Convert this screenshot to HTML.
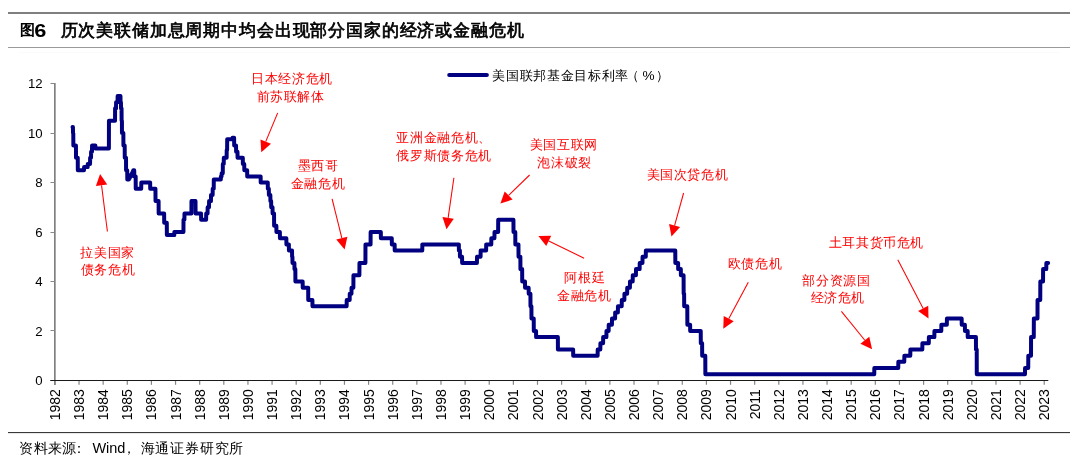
<!DOCTYPE html>
<html><head><meta charset="utf-8"><style>
html,body{margin:0;padding:0;background:#fff;width:1080px;height:463px;overflow:hidden}
svg{position:absolute;left:0;top:0;will-change:transform}
</style></head><body>
<svg width="1080" height="463" viewBox="0 0 1080 463">
<rect x="8" y="12" width="1062" height="2" fill="#7f7f7f"/>
<rect x="8" y="47" width="1062" height="1" fill="#9a9a9a"/>
<rect x="18.5" y="52" width="1040.5" height="1" fill="#fafafa"/>
<text x="19.6" y="34.6" style='font-family:"Liberation Sans",sans-serif;font-size:15.4px;font-weight:bold' fill="#000">图</text>
<text transform="translate(34.3,37.1) scale(1.17,1)" x="0" y="0" style='font-family:"Liberation Sans",sans-serif;font-size:18.6px;font-weight:bold' fill="#000">6</text>
<text x="60.60 78.44 96.28 114.12 131.96 149.80 167.64 185.48 203.32 221.16 239.00 256.84 274.68 292.52 310.36 328.20 346.04 363.88 381.72 399.56 417.40 435.24 453.08 470.92 488.76 506.60" y="36" style='font-family:"Liberation Serif",serif;font-size:16.6px;font-weight:400' fill="#000" stroke="#000" stroke-width="0.7">历次美联储加息周期中均会出现部分国家的经济或金融危机</text>
<rect x="54" y="83" width="1" height="302" fill="#808080"/><rect x="55" y="83" width="1" height="302" fill="#a8a8a8"/>
<g fill="#888"><rect x="50.5" y="380" width="4" height="1"/><rect x="50.5" y="330" width="4" height="1"/><rect x="50.5" y="281" width="4" height="1"/><rect x="50.5" y="232" width="4" height="1"/><rect x="50.5" y="182" width="4" height="1"/><rect x="50.5" y="133" width="4" height="1"/><rect x="50.5" y="83" width="4" height="1"/></g>
<rect x="50.3" y="380" width="998" height="1" fill="#1a1a1a"/>
<g stroke="#858585" stroke-width="1.2"><line x1="54.90" y1="381" x2="54.90" y2="384.8"/><line x1="79.03" y1="381" x2="79.03" y2="384.8"/><line x1="103.16" y1="381" x2="103.16" y2="384.8"/><line x1="127.29" y1="381" x2="127.29" y2="384.8"/><line x1="151.42" y1="381" x2="151.42" y2="384.8"/><line x1="175.55" y1="381" x2="175.55" y2="384.8"/><line x1="199.68" y1="381" x2="199.68" y2="384.8"/><line x1="223.81" y1="381" x2="223.81" y2="384.8"/><line x1="247.94" y1="381" x2="247.94" y2="384.8"/><line x1="272.07" y1="381" x2="272.07" y2="384.8"/><line x1="296.20" y1="381" x2="296.20" y2="384.8"/><line x1="320.33" y1="381" x2="320.33" y2="384.8"/><line x1="344.46" y1="381" x2="344.46" y2="384.8"/><line x1="368.59" y1="381" x2="368.59" y2="384.8"/><line x1="392.72" y1="381" x2="392.72" y2="384.8"/><line x1="416.85" y1="381" x2="416.85" y2="384.8"/><line x1="440.98" y1="381" x2="440.98" y2="384.8"/><line x1="465.11" y1="381" x2="465.11" y2="384.8"/><line x1="489.24" y1="381" x2="489.24" y2="384.8"/><line x1="513.37" y1="381" x2="513.37" y2="384.8"/><line x1="537.50" y1="381" x2="537.50" y2="384.8"/><line x1="561.63" y1="381" x2="561.63" y2="384.8"/><line x1="585.76" y1="381" x2="585.76" y2="384.8"/><line x1="609.89" y1="381" x2="609.89" y2="384.8"/><line x1="634.02" y1="381" x2="634.02" y2="384.8"/><line x1="658.15" y1="381" x2="658.15" y2="384.8"/><line x1="682.28" y1="381" x2="682.28" y2="384.8"/><line x1="706.41" y1="381" x2="706.41" y2="384.8"/><line x1="730.54" y1="381" x2="730.54" y2="384.8"/><line x1="754.67" y1="381" x2="754.67" y2="384.8"/><line x1="778.80" y1="381" x2="778.80" y2="384.8"/><line x1="802.93" y1="381" x2="802.93" y2="384.8"/><line x1="827.06" y1="381" x2="827.06" y2="384.8"/><line x1="851.19" y1="381" x2="851.19" y2="384.8"/><line x1="875.32" y1="381" x2="875.32" y2="384.8"/><line x1="899.45" y1="381" x2="899.45" y2="384.8"/><line x1="923.58" y1="381" x2="923.58" y2="384.8"/><line x1="947.71" y1="381" x2="947.71" y2="384.8"/><line x1="971.84" y1="381" x2="971.84" y2="384.8"/><line x1="995.97" y1="381" x2="995.97" y2="384.8"/><line x1="1020.10" y1="381" x2="1020.10" y2="384.8"/><line x1="1044.23" y1="381" x2="1044.23" y2="384.8"/></g>
<g style='font-family:"Liberation Sans",sans-serif;font-size:13.2px' fill="#000"><text x="42.6" y="385.10" text-anchor="end">0</text><text x="42.6" y="335.64" text-anchor="end">2</text><text x="42.6" y="286.18" text-anchor="end">4</text><text x="42.6" y="236.72" text-anchor="end">6</text><text x="42.6" y="187.26" text-anchor="end">8</text><text x="42.6" y="137.80" text-anchor="end">10</text><text x="42.6" y="88.34" text-anchor="end">12</text></g>
<g style='font-family:"Liberation Sans",sans-serif;font-size:14px' fill="#000"><text transform="translate(59.90,389.2) rotate(-90)" text-anchor="end">1982</text><text transform="translate(84.03,389.2) rotate(-90)" text-anchor="end">1983</text><text transform="translate(108.16,389.2) rotate(-90)" text-anchor="end">1984</text><text transform="translate(132.29,389.2) rotate(-90)" text-anchor="end">1985</text><text transform="translate(156.42,389.2) rotate(-90)" text-anchor="end">1986</text><text transform="translate(180.55,389.2) rotate(-90)" text-anchor="end">1987</text><text transform="translate(204.68,389.2) rotate(-90)" text-anchor="end">1988</text><text transform="translate(228.81,389.2) rotate(-90)" text-anchor="end">1989</text><text transform="translate(252.94,389.2) rotate(-90)" text-anchor="end">1990</text><text transform="translate(277.07,389.2) rotate(-90)" text-anchor="end">1991</text><text transform="translate(301.20,389.2) rotate(-90)" text-anchor="end">1992</text><text transform="translate(325.33,389.2) rotate(-90)" text-anchor="end">1993</text><text transform="translate(349.46,389.2) rotate(-90)" text-anchor="end">1994</text><text transform="translate(373.59,389.2) rotate(-90)" text-anchor="end">1995</text><text transform="translate(397.72,389.2) rotate(-90)" text-anchor="end">1996</text><text transform="translate(421.85,389.2) rotate(-90)" text-anchor="end">1997</text><text transform="translate(445.98,389.2) rotate(-90)" text-anchor="end">1998</text><text transform="translate(470.11,389.2) rotate(-90)" text-anchor="end">1999</text><text transform="translate(494.24,389.2) rotate(-90)" text-anchor="end">2000</text><text transform="translate(518.37,389.2) rotate(-90)" text-anchor="end">2001</text><text transform="translate(542.50,389.2) rotate(-90)" text-anchor="end">2002</text><text transform="translate(566.63,389.2) rotate(-90)" text-anchor="end">2003</text><text transform="translate(590.76,389.2) rotate(-90)" text-anchor="end">2004</text><text transform="translate(614.89,389.2) rotate(-90)" text-anchor="end">2005</text><text transform="translate(639.02,389.2) rotate(-90)" text-anchor="end">2006</text><text transform="translate(663.15,389.2) rotate(-90)" text-anchor="end">2007</text><text transform="translate(687.28,389.2) rotate(-90)" text-anchor="end">2008</text><text transform="translate(711.41,389.2) rotate(-90)" text-anchor="end">2009</text><text transform="translate(735.54,389.2) rotate(-90)" text-anchor="end">2010</text><text transform="translate(759.67,389.2) rotate(-90)" text-anchor="end">2011</text><text transform="translate(783.80,389.2) rotate(-90)" text-anchor="end">2012</text><text transform="translate(807.93,389.2) rotate(-90)" text-anchor="end">2013</text><text transform="translate(832.06,389.2) rotate(-90)" text-anchor="end">2014</text><text transform="translate(856.19,389.2) rotate(-90)" text-anchor="end">2015</text><text transform="translate(880.32,389.2) rotate(-90)" text-anchor="end">2016</text><text transform="translate(904.45,389.2) rotate(-90)" text-anchor="end">2017</text><text transform="translate(928.58,389.2) rotate(-90)" text-anchor="end">2018</text><text transform="translate(952.71,389.2) rotate(-90)" text-anchor="end">2019</text><text transform="translate(976.84,389.2) rotate(-90)" text-anchor="end">2020</text><text transform="translate(1000.97,389.2) rotate(-90)" text-anchor="end">2021</text><text transform="translate(1025.10,389.2) rotate(-90)" text-anchor="end">2022</text><text transform="translate(1049.23,389.2) rotate(-90)" text-anchor="end">2023</text></g>
<polyline points="72.51,126.92 72.93,126.92 73.00,133.10 73.29,133.10 73.36,145.46 75.95,145.46 76.01,157.83 77.76,157.83 77.82,170.19 84.03,170.19 84.10,167.10 87.65,167.10 87.72,164.01 90.06,164.01 90.13,157.83 91.03,157.83 91.09,151.65 91.99,151.65 92.06,145.46 95.37,145.46 95.44,148.56 108.89,148.56 108.95,120.73 115.04,120.73 115.10,108.37 116.03,108.37 116.09,102.19 117.57,102.19 117.64,96.00 120.47,96.00 120.53,102.19 120.95,102.19 121.02,108.37 121.55,108.37 121.62,120.73 121.92,120.73 121.98,133.10 123.36,133.10 123.43,145.46 124.69,145.46 124.76,157.83 126.02,157.83 126.08,170.19 127.22,170.19 127.29,179.47 128.91,179.47 128.98,177.92 129.88,177.92 129.94,176.38 130.84,176.38 130.91,174.83 131.81,174.83 131.87,173.29 132.53,173.29 132.60,171.74 133.26,171.74 133.32,170.19 134.22,170.19 134.29,176.38 135.67,176.38 135.74,188.74 141.22,188.74 141.29,182.56 150.15,182.56 150.21,188.74 155.46,188.74 155.52,201.11 158.59,201.11 158.66,213.47 164.14,213.47 164.21,222.75 166.80,222.75 166.86,235.11 174.28,235.11 174.34,232.02 183.45,232.02 183.51,219.65 184.41,219.65 184.48,213.47 191.41,213.47 191.48,201.11 195.51,201.11 195.58,213.47 201.06,213.47 201.13,219.65 206.13,219.65 206.20,213.47 207.58,213.47 207.64,207.29 209.02,207.29 209.09,201.11 210.95,201.11 211.02,194.92 212.64,194.92 212.71,188.74 213.73,188.74 213.80,179.47 220.85,179.47 220.91,176.38 221.57,176.38 221.64,173.29 222.78,173.29 222.84,164.01 223.74,164.01 223.81,157.83 226.64,157.83 226.71,150.10 227.12,150.10 227.19,139.28 232.43,139.28 232.50,137.74 234.12,137.74 234.19,145.46 236.05,145.46 236.12,151.65 237.50,151.65 237.56,157.83 242.81,157.83 242.87,164.01 244.25,164.01 244.32,170.19 247.15,170.19 247.22,176.38 260.63,176.38 260.70,182.56 267.77,182.56 267.84,188.74 268.83,188.74 268.90,194.92 270.35,194.92 270.42,201.11 271.14,201.11 271.21,207.29 272.53,207.29 272.60,213.47 274.05,213.47 274.12,225.84 276.37,225.84 276.43,232.02 279.87,232.02 279.94,238.20 286.35,238.20 286.42,244.38 288.86,244.38 288.93,250.57 292.04,250.57 292.10,256.75 292.43,256.75 292.50,262.93 294.42,262.93 294.48,269.12 295.34,269.12 295.41,281.48 302.66,281.48 302.73,287.66 308.20,287.66 308.26,300.03 312.42,300.03 312.48,306.21 346.64,306.21 346.71,300.03 349.68,300.03 349.75,293.84 351.47,293.84 351.53,287.66 353.38,287.66 353.45,275.30 359.40,275.30 359.47,262.93 365.42,262.93 365.48,244.38 370.57,244.38 370.64,232.02 380.82,232.02 380.89,238.20 391.79,238.20 391.86,244.38 394.63,244.38 394.70,250.57 422.27,250.57 422.34,244.38 458.83,244.38 458.90,250.57 459.89,250.57 459.95,256.75 462.07,256.75 462.14,262.93 476.94,262.93 477.01,256.75 480.58,256.75 480.65,250.57 486.13,250.57 486.20,244.38 491.28,244.38 491.35,238.20 494.45,238.20 494.51,232.02 498.14,232.02 498.21,219.65 513.44,219.65 513.50,232.02 515.29,232.02 515.35,244.38 518.46,244.38 518.53,256.75 520.38,256.75 520.44,269.12 522.16,269.12 522.23,281.48 525.01,281.48 525.07,287.66 528.64,287.66 528.71,293.84 530.43,293.84 530.49,306.21 531.42,306.21 531.48,318.57 533.73,318.57 533.80,330.94 536.05,330.94 536.11,337.12 557.86,337.12 557.93,349.49 573.13,349.49 573.20,355.67 597.63,355.67 597.69,349.49 600.33,349.49 600.40,343.30 603.10,343.30 603.17,337.12 606.40,337.12 606.46,330.94 608.64,330.94 608.70,324.76 611.94,324.76 612.01,318.57 615.11,318.57 615.18,312.39 617.89,312.39 617.96,306.21 621.72,306.21 621.79,300.03 624.37,300.03 624.43,293.84 627.14,293.84 627.21,287.66 629.92,287.66 629.99,281.48 632.70,281.48 632.76,275.30 635.94,275.30 636.00,269.12 639.64,269.12 639.71,262.93 642.48,262.93 642.55,256.75 645.79,256.75 645.85,250.57 675.27,250.57 675.34,262.93 678.12,262.93 678.18,269.12 680.83,269.12 680.89,275.30 683.60,275.30 683.66,293.84 684.13,293.84 684.19,306.21 687.29,306.21 687.36,324.76 690.13,324.76 690.19,330.94 700.74,330.94 700.81,343.30 702.12,343.30 702.19,355.67 705.29,355.67 705.36,374.22 874.26,374.22 874.33,368.03 898.26,368.03 898.33,361.85 904.28,361.85 904.34,355.67 910.29,355.67 910.36,349.49 922.32,349.49 922.39,343.30 928.80,343.30 928.87,337.12 934.36,337.12 934.42,330.94 941.30,330.94 941.36,324.76 946.85,324.76 946.92,318.57 961.66,318.57 961.73,324.76 964.90,324.76 964.96,330.94 967.68,330.94 967.74,337.12 975.93,337.12 975.99,349.49 976.72,349.49 976.78,374.22 1024.99,374.22 1025.06,368.03 1028.23,368.03 1028.30,355.67 1031.01,355.67 1031.07,337.12 1033.78,337.12 1033.85,318.57 1037.49,318.57 1037.55,300.03 1040.26,300.03 1040.33,281.48 1043.04,281.48 1043.11,269.12 1046.28,269.12 1046.35,262.93 1048.13,262.93" fill="none" stroke="#000080" stroke-width="4" stroke-linejoin="round" stroke-linecap="round"/>
<line x1="449.2" y1="75.1" x2="486.9" y2="75.1" stroke="#000080" stroke-width="4" stroke-linecap="round"/>
<text x="492.40 506.04 519.68 533.32 546.96 560.60 574.24 587.88 601.52 615.16" y="80" style='font-family:"Liberation Serif",serif;font-size:13.3px' fill="#000" >美国联邦基金目标利率</text>
<text x="626.30" y="80" style='font-family:"Liberation Serif",serif;font-size:13.3px' fill="#000" >（</text>
<text x="642.6" y="80" style='font-family:"Liberation Sans",sans-serif;font-size:13.6px' fill="#000">%</text>
<text x="656.00" y="80" style='font-family:"Liberation Serif",serif;font-size:13.3px' fill="#000" >）</text>
<g style='font-family:"Liberation Serif",serif;fill:#ff0000;font-size:13px'><text x="251.18 264.82 278.48 292.12 305.78 319.43" y="82.80">日本经济危机</text><text x="256.50 270.15 283.80 297.45 311.10" y="100.55">前苏联解体</text><text x="80.43 94.08 107.73 121.38" y="256.55">拉美国家</text><text x="80.83 94.48 108.12 121.78" y="274.45">债务危机</text><text x="297.50 311.15 324.80" y="170.25">墨西哥</text><text x="290.62 304.27 317.93 331.57" y="187.75">金融危机</text><text x="396.25 409.90 423.55 437.20 450.85 464.50 478.15" y="142.10">亚洲金融危机、</text><text x="396.25 409.90 423.55 437.20 450.85 464.50 478.15" y="159.65">俄罗斯债务危机</text><text x="529.80 543.45 557.10 570.75 584.40" y="149.25">美国互联网</text><text x="537.33 550.98 564.62 578.28" y="167.00">泡沫破裂</text><text x="564.40 578.05 591.70" y="282.45">阿根廷</text><text x="557.18 570.83 584.48 598.13" y="300.45">金融危机</text><text x="646.52 660.17 673.82 687.48 701.12 714.77" y="179.40">美国次贷危机</text><text x="727.78 741.43 755.08 768.73" y="267.90">欧债危机</text><text x="828.55 842.20 855.85 869.50 883.15 896.80 910.45" y="247.40">土耳其货币危机</text><text x="802.30 815.95 829.60 843.25 856.90" y="284.65">部分资源国</text><text x="810.53 824.18 837.83 851.48" y="302.40">经济危机</text></g>
<g stroke="#ff0000" fill="#ff0000" stroke-width="1.05"><line x1="107.4" y1="231.5" x2="101.55" y2="185.31"/><polygon stroke="none" points="100.1,173.9 107.20,184.59 95.89,186.03"/><line x1="277.7" y1="112.9" x2="265.73" y2="141.59"/><polygon stroke="none" points="261.3,152.2 260.47,139.39 270.99,143.78"/><line x1="332.1" y1="198.9" x2="341.84" y2="238.24"/><polygon stroke="none" points="344.6,249.4 336.30,239.61 347.37,236.87"/><line x1="453.9" y1="177.8" x2="448.14" y2="217.92"/><polygon stroke="none" points="446.5,229.3 442.49,217.11 453.78,218.73"/><line x1="529.6" y1="175.0" x2="508.63" y2="195.47"/><polygon stroke="none" points="500.4,203.5 504.65,191.39 512.61,199.55"/><line x1="584.1" y1="258.2" x2="548.74" y2="240.94"/><polygon stroke="none" points="538.4,235.9 551.23,235.82 546.24,246.07"/><line x1="683.6" y1="193.0" x2="674.58" y2="225.52"/><polygon stroke="none" points="671.5,236.6 669.08,223.99 680.07,227.04"/><line x1="748.3" y1="282.2" x2="728.74" y2="318.67"/><polygon stroke="none" points="723.3,328.8 723.71,315.97 733.76,321.36"/><line x1="897.8" y1="259.7" x2="923.18" y2="308.40"/><polygon stroke="none" points="928.5,318.6 918.13,311.04 928.24,305.77"/><line x1="841.4" y1="311.4" x2="864.85" y2="340.27"/><polygon stroke="none" points="872.1,349.2 860.43,343.87 869.27,336.68"/></g>
<rect x="8" y="432" width="1062" height="1" fill="#3a3a3a"/><rect x="8" y="433" width="1062" height="1" fill="#e8e8e8"/>
<text y="452.6" style='font-family:"Liberation Serif",serif;font-size:14px' fill="#000"><tspan x="19.3 33.6 47.9 62.2 71.8">资料来源：</tspan><tspan x="92.4" style='font-family:"Liberation Sans",sans-serif;font-size:14.5px'>Wind</tspan><tspan x="122.4 140.6 155.4 170.2 185 199.8 214.6 229.4">，海通证券研究所</tspan></text>
</svg>
</body></html>
